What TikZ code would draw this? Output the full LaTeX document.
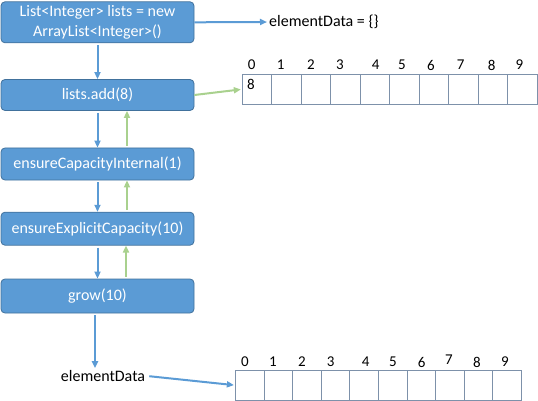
\documentclass[tikz,border=0pt]{standalone}
\usepackage{fontspec}
\setmainfont{Carlito}
\usetikzlibrary{arrows.meta}
\definecolor{boxblue}{RGB}{91,155,213}
\definecolor{boxedge}{RGB}{65,113,156}
\definecolor{retgreen}{RGB}{169,209,142}
\definecolor{celledge}{RGB}{125,145,170}
\begin{document}
\begin{tikzpicture}[x=1pt,y=-1pt,
  fnbox/.style={draw=boxedge,fill=boxblue,line width=0.8pt,rounded corners=4pt,text=white,
    minimum width=193pt,inner sep=0pt,align=center,font=\fontsize{16}{20}\selectfont},
  callarr/.style={boxblue,line width=2pt,shorten <=2pt,-{Triangle[length=7pt,width=6pt]}},
  retarr/.style={retgreen,line width=2pt,shorten <=2pt,-{Triangle[length=7pt,width=6pt]}},
  cell/.style={draw=celledge,line width=0.8pt,minimum height=29.8pt,inner sep=0pt},
  idx/.style={font=\fontsize{15}{18}\selectfont,inner sep=0pt},
  lbl/.style={font=\fontsize{16}{19}\selectfont,inner sep=2pt}]
\useasboundingbox (0,0) rectangle (538,401);
% call chain
\node[fnbox,minimum height=41pt] (b1) at (97.5,22.3) {List<Integer> lists = new\\ArrayList<Integer>()};
\node[fnbox,minimum height=31pt] (b2) at (97.5,95) {lists.add(8)};
\node[fnbox,minimum height=32pt] (b3) at (97.5,164) {ensureCapacityInternal(1)};
\node[fnbox,minimum height=33pt] (b4) at (97.5,228.7) {ensureExplicitCapacity(10)};
\node[fnbox,minimum height=34pt] (b5) at (97.5,296) {grow(10)};
\draw[callarr] (b1) -- (b2);
\draw[callarr] (b2) -- (b3);
\draw[callarr] (b3) -- (b4);
\draw[callarr] (b4) -- (b5);
\draw[retarr] ([xshift=29.5pt]b3.north) -- ([xshift=29.5pt]b2.south);
\draw[retarr] ([xshift=29.5pt]b4.north) -- ([xshift=29.5pt]b3.south);
\draw[retarr] ([xshift=28.5pt]b5.north) -- ([xshift=28.5pt]b4.south);
% empty array
\node[lbl,anchor=west] (ed0) at (267,22) {elementData = \{\}};
\draw[callarr,shorten <=0pt] (b1.east) -- (ed0.west);
% array after add
\foreach \i in {0,...,9}
  \node[cell,minimum width=29.5pt] (a\i) at ({257+29.5*\i},89.3) {};
\foreach \i/\px in {0/251.7,1/280.7,2/311,3/340,4/375.7,5/402,6/431,7/460.7,8/491.7,9/519.3}
  \node[idx] (ai\i) at (\px,65) {\i};
\node[idx] (v8) at (251,84) {8};
\draw[retarr,shorten <=0pt,shorten >=1pt] (b2.east) -- (a0.west);
% array after grow
\node[lbl] (ed1) at (103,376) {elementData};
\draw[callarr] ([xshift=-2.5pt]b5.south) -- ([xshift=-2.5pt]b5.south |- ed1.north);
\foreach \i in {0,...,9}
  \node[cell,minimum width=28.6pt] (c\i) at ({249.6+28.6*\i},385.2) {};
\foreach \i/\px/\py in {0/245/362,1/273/362,2/302/362,3/330.7/362,4/365.7/362,5/393/362,6/421.7/362,7/449/360,8/477/362,9/505/362}
  \node[idx] (ci\i) at (\px,\py) {\i};
\draw[callarr,shorten <=2pt,shorten >=1pt] (ed1.east) -- (c0.west);
\end{tikzpicture}
\end{document}
